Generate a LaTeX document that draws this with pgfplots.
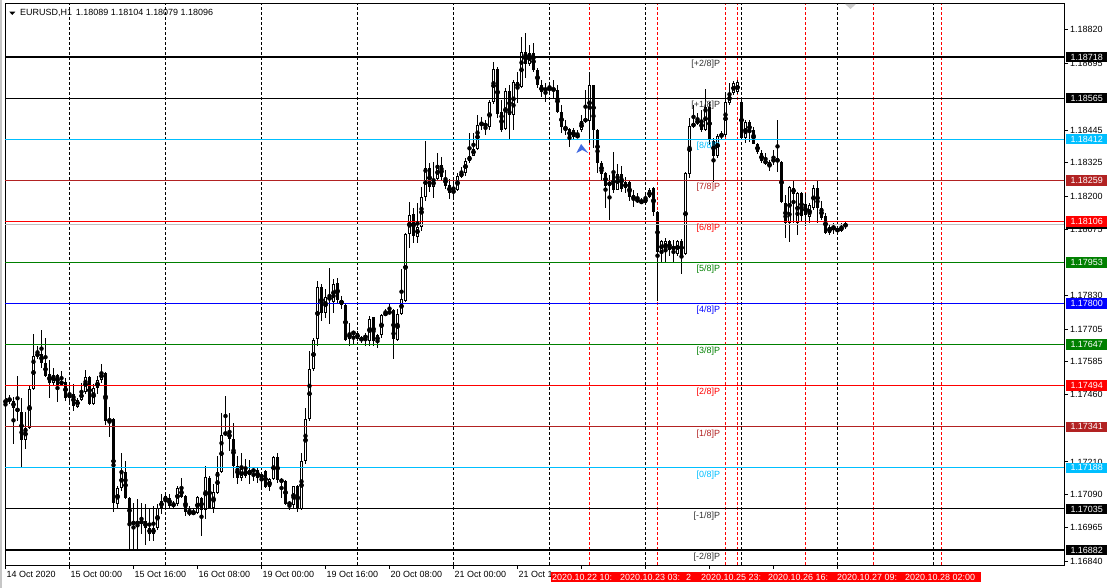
\documentclass[border=0pt]{standalone}
\usepackage{fontspec}
\setmainfont{Liberation Sans}
\usepackage{pgfplots}
\usepackage{pgfplotstable}
\pgfplotsset{compat=1.18}

\definecolor{mtsky}{RGB}{0,191,255}
\definecolor{mtbrick}{RGB}{178,34,34}
\definecolor{mtgreen}{RGB}{0,128,0}
\definecolor{mtblue}{RGB}{0,0,255}
\definecolor{mtred}{RGB}{255,0,0}
\definecolor{mtsilver}{RGB}{192,192,192}
\definecolor{mtarrow}{RGB}{65,105,225}
\newcommand{\mtfont}{\fontsize{9}{10}\selectfont}

% EURUSD H1, bar index (0 = 14 Oct 08:00), open high low close
\pgfplotstableread{
x o h l c
0 1.17423 1.17460 1.17390 1.17449
1 1.17449 1.17460 1.17427 1.17438
2 1.17438 1.17453 1.17278 1.17412
3 1.17412 1.17531 1.17363 1.17397
4 1.17397 1.17449 1.17192 1.17293
5 1.17293 1.17397 1.17259 1.17337
6 1.17337 1.17494 1.17333 1.17483
7 1.17483 1.17688 1.17479 1.17606
8 1.17606 1.17643 1.17595 1.17613
9 1.17613 1.17703 1.17561 1.17580
10 1.17580 1.17673 1.17528 1.17531
11 1.17539 1.17591 1.17449 1.17505
12 1.17505 1.17561 1.17494 1.17535
13 1.17535 1.17539 1.17434 1.17498
14 1.17498 1.17550 1.17494 1.17513
15 1.17509 1.17524 1.17438 1.17449
16 1.17449 1.17498 1.17427 1.17464
17 1.17464 1.17502 1.17401 1.17419
18 1.17416 1.17449 1.17412 1.17442
19 1.17442 1.17505 1.17438 1.17472
20 1.17472 1.17554 1.17464 1.17528
21 1.17528 1.17531 1.17424 1.17427
22 1.17427 1.17502 1.17424 1.17487
23 1.17487 1.17531 1.17464 1.17516
24 1.17516 1.17576 1.17505 1.17543
25 1.17543 1.17546 1.17349 1.17363
26 1.17360 1.17416 1.17304 1.17371
27 1.17371 1.17374 1.17024 1.17057
28 1.17054 1.17121 1.17035 1.17113
29 1.17113 1.17244 1.17102 1.17173
30 1.17173 1.17214 1.17072 1.17076
31 1.17076 1.17080 1.16878 1.16983
32 1.16990 1.17057 1.16878 1.16979
33 1.16979 1.17072 1.16878 1.16990
34 1.16987 1.17057 1.16942 1.16987
35 1.16990 1.17054 1.16901 1.16964
36 1.16964 1.17039 1.16916 1.16942
37 1.16942 1.17046 1.16916 1.16964
38 1.16964 1.17054 1.16957 1.17039
39 1.17039 1.17091 1.17016 1.17065
40 1.17065 1.17095 1.17039 1.17084
41 1.17076 1.17091 1.17039 1.17046
42 1.17046 1.17065 1.17039 1.17057
43 1.17054 1.17121 1.17046 1.17113
44 1.17113 1.17151 1.17076 1.17080
45 1.17084 1.17087 1.17009 1.17024
46 1.17028 1.17046 1.17009 1.17016
47 1.17020 1.17035 1.17013 1.17020
48 1.17020 1.17084 1.17016 1.17080
49 1.17076 1.17080 1.16934 1.17031
50 1.17031 1.17195 1.16998 1.17154
51 1.17151 1.17158 1.17035 1.17039
52 1.17039 1.17128 1.17020 1.17099
53 1.17095 1.17233 1.17091 1.17173
54 1.17173 1.17393 1.17169 1.17311
55 1.17311 1.17457 1.17307 1.17322
56 1.17322 1.17393 1.17251 1.17296
57 1.17296 1.17356 1.17151 1.17195
58 1.17195 1.17233 1.17128 1.17151
59 1.17151 1.17244 1.17140 1.17184
60 1.17184 1.17222 1.17151 1.17158
61 1.17162 1.17218 1.17128 1.17181
62 1.17177 1.17184 1.17140 1.17181
63 1.17181 1.17192 1.17132 1.17151
64 1.17162 1.17173 1.17117 1.17154
65 1.17177 1.17181 1.17113 1.17117
66 1.17117 1.17151 1.17102 1.17147
67 1.17147 1.17233 1.17143 1.17229
68 1.17229 1.17244 1.17132 1.17143
69 1.17147 1.17151 1.17076 1.17136
70 1.17140 1.17143 1.17050 1.17054
71 1.17061 1.17065 1.17031 1.17050
72 1.17050 1.17121 1.17035 1.17121
73 1.17121 1.17124 1.17024 1.17035
74 1.17035 1.17244 1.17031 1.17214
75 1.17214 1.17412 1.17203 1.17371
76 1.17371 1.17625 1.17363 1.17557
77 1.17557 1.17673 1.17550 1.17666
78 1.17666 1.17886 1.17643 1.17860
79 1.17863 1.17875 1.17737 1.17766
80 1.17766 1.17856 1.17748 1.17826
81 1.17819 1.17934 1.17725 1.17822
82 1.17808 1.17893 1.17766 1.17875
83 1.17878 1.17897 1.17800 1.17815
84 1.17815 1.17830 1.17781 1.17796
85 1.17796 1.17800 1.17662 1.17666
86 1.17666 1.17729 1.17643 1.17692
87 1.17692 1.17696 1.17651 1.17692
88 1.17692 1.17699 1.17662 1.17666
89 1.17662 1.17681 1.17654 1.17673
90 1.17677 1.17692 1.17643 1.17677
91 1.17662 1.17755 1.17643 1.17744
92 1.17748 1.17752 1.17643 1.17662
93 1.17658 1.17688 1.17636 1.17684
94 1.17681 1.17763 1.17673 1.17759
95 1.17759 1.17781 1.17755 1.17766
96 1.17770 1.17800 1.17763 1.17766
97 1.17774 1.17781 1.17595 1.17666
98 1.17666 1.17781 1.17662 1.17763
99 1.17763 1.17931 1.17759 1.17819
100 1.17811 1.18065 1.17808 1.18061
101 1.18061 1.18177 1.18005 1.18132
102 1.18136 1.18155 1.18024 1.18054
103 1.18050 1.18173 1.18024 1.18087
104 1.18084 1.18233 1.18072 1.18196
105 1.18196 1.18408 1.18184 1.18304
106 1.18304 1.18322 1.18214 1.18233
107 1.18233 1.18326 1.18192 1.18263
108 1.18263 1.18360 1.18259 1.18315
109 1.18315 1.18345 1.18259 1.18270
110 1.18270 1.18300 1.18229 1.18240
111 1.18240 1.18266 1.18192 1.18211
112 1.18211 1.18263 1.18196 1.18225
113 1.18222 1.18285 1.18218 1.18274
114 1.18274 1.18308 1.18270 1.18289
115 1.18289 1.18345 1.18278 1.18334
116 1.18330 1.18434 1.18322 1.18352
117 1.18352 1.18434 1.18349 1.18378
118 1.18378 1.18502 1.18371 1.18464
119 1.18461 1.18494 1.18446 1.18475
120 1.18475 1.18483 1.18427 1.18457
121 1.18457 1.18558 1.18446 1.18550
122 1.18550 1.18699 1.18543 1.18673
123 1.18673 1.18681 1.18490 1.18505
124 1.18513 1.18558 1.18438 1.18446
125 1.18449 1.18602 1.18446 1.18591
126 1.18591 1.18614 1.18412 1.18502
127 1.18502 1.18632 1.18446 1.18625
128 1.18606 1.18662 1.18546 1.18625
129 1.18606 1.18793 1.18602 1.18737
130 1.18737 1.18808 1.18643 1.18692
131 1.18692 1.18763 1.18684 1.18733
132 1.18733 1.18770 1.18662 1.18670
133 1.18670 1.18677 1.18602 1.18614
134 1.18614 1.18632 1.18569 1.18587
135 1.18602 1.18621 1.18550 1.18595
136 1.18595 1.18625 1.18587 1.18606
137 1.18595 1.18632 1.18565 1.18602
138 1.18595 1.18614 1.18509 1.18513
139 1.18513 1.18539 1.18434 1.18457
140 1.18457 1.18483 1.18427 1.18446
141 1.18449 1.18453 1.18382 1.18420
142 1.18420 1.18453 1.18408 1.18446
143 1.18427 1.18446 1.18416 1.18420
144 1.18446 1.18502 1.18438 1.18479
145 1.18479 1.18595 1.18472 1.18487
146 1.18483 1.18662 1.18401 1.18614
147 1.18614 1.18617 1.18382 1.18446
148 1.18446 1.18449 1.18285 1.18322
149 1.18326 1.18334 1.18259 1.18285
150 1.18289 1.18292 1.18158 1.18240
151 1.18240 1.18278 1.18113 1.18255
152 1.18285 1.18367 1.18214 1.18225
153 1.18225 1.18319 1.18222 1.18285
154 1.18285 1.18311 1.18214 1.18229
155 1.18229 1.18270 1.18211 1.18252
156 1.18252 1.18255 1.18184 1.18196
157 1.18203 1.18222 1.18158 1.18188
158 1.18184 1.18211 1.18173 1.18184
159 1.18184 1.18192 1.18170 1.18173
160 1.18173 1.18214 1.18170 1.18196
161 1.18196 1.18229 1.18192 1.18222
162 1.18229 1.18233 1.18128 1.18140
163 1.18140 1.18147 1.17811 1.17990
164 1.17990 1.18035 1.17949 1.18035
165 1.17998 1.18043 1.17953 1.18035
166 1.18035 1.18039 1.17979 1.17998
167 1.17998 1.18035 1.17949 1.18016
168 1.17987 1.18039 1.17979 1.18035
169 1.18035 1.18039 1.17912 1.17983
170 1.17983 1.18289 1.17979 1.18285
171 1.18285 1.18490 1.18270 1.18464
172 1.18457 1.18539 1.18453 1.18475
173 1.18472 1.18509 1.18464 1.18483
174 1.18483 1.18520 1.18438 1.18446
175 1.18446 1.18599 1.18442 1.18531
176 1.18531 1.18550 1.18390 1.18408
177 1.18408 1.18416 1.18252 1.18352
178 1.18352 1.18434 1.18345 1.18427
179 1.18420 1.18442 1.18408 1.18434
180 1.18427 1.18587 1.18420 1.18550
181 1.18546 1.18621 1.18539 1.18584
182 1.18584 1.18629 1.18576 1.18621
183 1.18587 1.18632 1.18580 1.18625
184 1.18550 1.18558 1.18408 1.18416
185 1.18416 1.18483 1.18397 1.18475
186 1.18475 1.18483 1.18401 1.18438
187 1.18446 1.18457 1.18393 1.18397
188 1.18393 1.18401 1.18360 1.18363
189 1.18360 1.18371 1.18322 1.18330
190 1.18334 1.18363 1.18315 1.18322
191 1.18326 1.18334 1.18296 1.18308
192 1.18326 1.18371 1.18315 1.18341
193 1.18326 1.18483 1.18289 1.18341
194 1.18326 1.18330 1.18173 1.18177
195 1.18177 1.18203 1.18046 1.18099
196 1.18099 1.18237 1.18028 1.18233
197 1.18233 1.18259 1.18099 1.18211
198 1.18099 1.18214 1.18054 1.18211
199 1.18211 1.18214 1.18102 1.18128
200 1.18170 1.18211 1.18091 1.18128
201 1.18121 1.18173 1.18102 1.18166
202 1.18155 1.18240 1.18147 1.18233
203 1.18233 1.18259 1.18102 1.18155
204 1.18155 1.18184 1.18113 1.18121
205 1.18128 1.18136 1.18061 1.18065
206 1.18061 1.18099 1.18058 1.18084
207 1.18087 1.18102 1.18061 1.18080
208 1.18080 1.18091 1.18058 1.18065
209 1.18072 1.18102 1.18065 1.18087
210 1.18089 1.18104 1.18079 1.18096
}\candles

\begin{document}
\begin{tikzpicture}
\path[use as bounding box, fill=white] (0,0) rectangle (1112bp,588bp);
\fill[gray!45] (0,0) rectangle (2bp,588bp);

\begin{axis}[
    at={(5bp,23bp)}, anchor=south west,
    scale only axis, width=1059bp, height=561bp,
    xmin=-0.125, xmax=264.625,
    ymin=1.168262, ymax=1.189154,
    axis line style={black, line width=1bp},
    tick align=outside,
    xtick pos=bottom, ytick pos=right,
    xticklabel pos=bottom, yticklabel pos=right,
    major tick length=4bp,
    tick style={black, line width=1bp},
    minor tick num=0,
    xtick={0,16,...,208},
    xticklabels={14 Oct 2020,15 Oct 00:00,15 Oct 16:00,16 Oct 08:00,19 Oct 00:00,19 Oct 16:00,20 Oct 08:00,21 Oct 00:00,21 Oct 1,,,,,},
    xticklabel style={anchor=north west, inner xsep=1pt, inner ysep=2pt},
    ytick={1.16840,1.16965,1.17090,1.17210,1.17460,1.17585,1.17705,1.17830,1.18075,1.18200,1.18325,1.18445,1.18695,1.18820},
    yticklabels={1.16840,1.16965,1.17090,1.17210,1.17460,1.17585,1.17705,1.17830,1.18075,1.18200,1.18325,1.18445,1.18695,1.18820},
    yticklabel style={anchor=west, inner xsep=2pt},
    ticklabel style={font=\mtfont},
]

% period separators and time lines
\pgfplotsinvokeforeach{16,40,64,88,112,136,160,184,208,232}{
  \draw[black, line width=1bp, dash pattern=on 3bp off 2bp] (axis cs:#1,1.168262) -- (axis cs:#1,1.189154);
}
\pgfplotsinvokeforeach{146,163,180,183,200,217,234}{
  \draw[mtred, line width=1bp, dash pattern=on 3bp off 2bp] (axis cs:#1,1.168262) -- (axis cs:#1,1.189154);
}

% candles: wicks, bodies, white fill of rising bars
\addplot[only marks, mark=none, error bars/.cd, y dir=both, y explicit,
    error mark=none, error bar style={black, line width=1bp}]
    table[x=x, y expr={(\thisrow{h}+\thisrow{l})/2}, y error expr={(\thisrow{h}-\thisrow{l})/2}] {\candles};
\addplot[only marks, mark=none, error bars/.cd, y dir=both, y explicit,
    error mark=none, error bar style={black, line width=3bp}]
    table[x=x, y expr={(\thisrow{o}+\thisrow{c})/2}, y error expr={max(abs(\thisrow{c}-\thisrow{o})/2,0.00002)}] {\candles};
\addplot[only marks, mark=none, error bars/.cd, y dir=both, y explicit,
    error mark=none, error bar style={white, line width=1bp}]
    table[x=x, y expr={(\thisrow{o}+\thisrow{c})/2}, y error expr={(\thisrow{c}>\thisrow{o})*max((\thisrow{c}-\thisrow{o})/2-0.000037,0)}] {\candles};

% Murrey math levels
\draw[black, line width=2bp] (axis cs:-0.125,1.18718) -- (axis cs:264.625,1.18718);
\draw[black, line width=1bp] (axis cs:-0.125,1.18565) -- (axis cs:264.625,1.18565);
\draw[mtsky, line width=1bp] (axis cs:-0.125,1.18412) -- (axis cs:264.625,1.18412);
\draw[mtbrick, line width=1bp] (axis cs:-0.125,1.18259) -- (axis cs:264.625,1.18259);
\draw[mtsilver, line width=1bp] (axis cs:-0.125,1.18096) -- (axis cs:264.625,1.18096);
\draw[mtred, line width=1bp] (axis cs:-0.125,1.18106) -- (axis cs:264.625,1.18106);
\draw[mtgreen, line width=1bp] (axis cs:-0.125,1.17953) -- (axis cs:264.625,1.17953);
\draw[mtblue, line width=1bp] (axis cs:-0.125,1.17800) -- (axis cs:264.625,1.17800);
\draw[mtgreen, line width=1bp] (axis cs:-0.125,1.17647) -- (axis cs:264.625,1.17647);
\draw[mtred, line width=1bp] (axis cs:-0.125,1.17494) -- (axis cs:264.625,1.17494);
\draw[mtbrick, line width=1bp] (axis cs:-0.125,1.17341) -- (axis cs:264.625,1.17341);
\draw[mtsky, line width=1bp] (axis cs:-0.125,1.17188) -- (axis cs:264.625,1.17188);
\draw[black, line width=1bp] (axis cs:-0.125,1.17035) -- (axis cs:264.625,1.17035);
\draw[black, line width=2bp] (axis cs:-0.125,1.16882) -- (axis cs:264.625,1.16882);

\begin{scope}[every node/.style={anchor=east, font=\mtfont, inner sep=0pt}]
\node[text=black!80] at (axis cs:178.7,1.18692) {[+2/8]P};
\node[text=black!80] at (axis cs:178.7,1.18539) {[+1/8]P};
\node[text=mtsky] at (axis cs:178.7,1.18386) {[8/8]P};
\node[text=mtbrick] at (axis cs:178.7,1.18233) {[7/8]P};
\node[text=mtred] at (axis cs:178.7,1.18080) {[6/8]P};
\node[text=mtgreen] at (axis cs:178.7,1.17927) {[5/8]P};
\node[text=mtblue] at (axis cs:178.7,1.17774) {[4/8]P};
\node[text=mtgreen] at (axis cs:178.7,1.17621) {[3/8]P};
\node[text=mtred] at (axis cs:178.7,1.17468) {[2/8]P};
\node[text=mtbrick] at (axis cs:178.7,1.17315) {[1/8]P};
\node[text=mtsky] at (axis cs:178.7,1.17162) {[0/8]P};
\node[text=black!80] at (axis cs:178.7,1.17009) {[-1/8]P};
\node[text=black!80] at (axis cs:178.7,1.16856) {[-2/8]P};
\end{scope}

% buy arrow
\fill[mtarrow] (axis cs:143.9,1.18394) -- (axis cs:145.7,1.18360) -- (axis cs:144.2,1.18372) -- (axis cs:142.7,1.18360) -- cycle;

% anchors for the price boxes
\coordinate (R1) at (axis cs:264.625,1.18718);
\coordinate (R2) at (axis cs:264.625,1.18565);
\coordinate (R3) at (axis cs:264.625,1.18412);
\coordinate (R4) at (axis cs:264.625,1.18259);
\coordinate (RB) at (axis cs:264.625,1.18096);
\coordinate (R5) at (axis cs:264.625,1.18106);
\coordinate (R6) at (axis cs:264.625,1.17953);
\coordinate (R7) at (axis cs:264.625,1.17800);
\coordinate (R8) at (axis cs:264.625,1.17647);
\coordinate (R9) at (axis cs:264.625,1.17494);
\coordinate (R10) at (axis cs:264.625,1.17341);
\coordinate (R11) at (axis cs:264.625,1.17188);
\coordinate (R12) at (axis cs:264.625,1.17035);
\coordinate (R13) at (axis cs:264.625,1.16882);
\end{axis}

\begin{scope}[every node/.style={anchor=west, text=white, font=\mtfont, inner sep=0pt, minimum width=41bp, minimum height=10.5bp, xshift=2bp}]
\node[fill=black] at (RB) {};
\node[fill=black] at (R1) {1.18718};
\node[fill=black] at (R2) {1.18565};
\node[fill=mtsky] at (R3) {1.18412};
\node[fill=mtbrick] at (R4) {1.18259};
\node[fill=mtred] at (R5) {1.18106};
\node[fill=mtgreen] at (R6) {1.17953};
\node[fill=mtblue] at (R7) {1.17800};
\node[fill=mtgreen] at (R8) {1.17647};
\node[fill=mtred] at (R9) {1.17494};
\node[fill=mtbrick] at (R10) {1.17341};
\node[fill=mtsky] at (R11) {1.17188};
\node[fill=black] at (R12) {1.17035};
\node[fill=black] at (R13) {1.16882};
\end{scope}

% time labels of the vertical lines, each cut by the next one
\fill[mtred] (551bp,6bp) rectangle (981bp,16bp);
\begin{scope}[every node/.style={anchor=west, text=white, font=\mtfont, inner sep=0pt}]
\node at (552bp,11bp) {2020.10.22 10:};
\node at (620bp,11bp) {2020.10.23 03:};
\node at (686bp,11bp) {2};
\node at (701bp,11bp) {2020.10.25 23:};
\node at (768bp,11bp) {2020.10.26 16:};
\node at (837bp,11bp) {2020.10.27 09:};
\node at (905bp,11bp) {2020.10.28 02:00};
\end{scope}

% header and chart shift marker
\fill[black] (9.3bp,576.3bp) -- (15.3bp,576.3bp) -- (12.3bp,573bp) -- cycle;
\node[anchor=west, font=\mtfont, inner sep=0pt] at (20bp,575bp) {EURUSD,H1\hspace{4pt}1.18089 1.18104 1.18079 1.18096};
\fill[gray!40] (845bp,584bp) -- (856bp,584bp) -- (850.5bp,579bp) -- cycle;
\end{tikzpicture}
\end{document}
